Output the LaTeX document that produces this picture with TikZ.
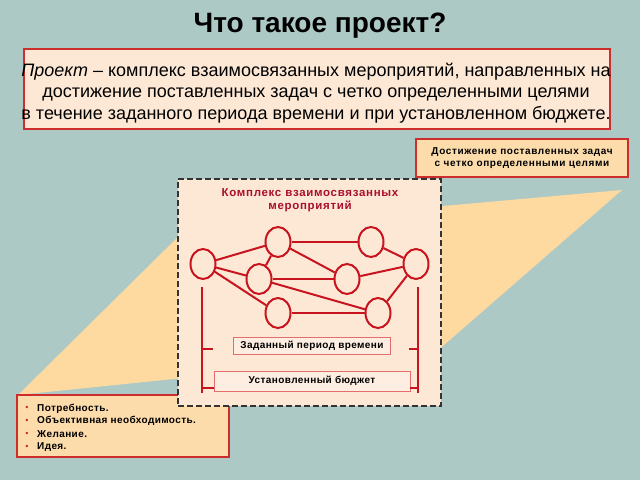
\documentclass[tikz,border=0pt]{standalone}
\usepackage{fontspec}
\setmainfont{Liberation Sans}
\newfontfamily\spaced[LetterSpace=6]{Liberation Sans}
\newfontfamily\spacedless[LetterSpace=4]{Liberation Sans}
\usetikzlibrary{positioning,shapes.geometric}

\begin{document}
\begin{tikzpicture}[x=1pt,y=-1pt,
  frame/.style={draw=edge,line width=1.2pt},
  event/.style={ellipse,draw=net,fill=paper,line width=2pt,minimum width=25pt,minimum height=30pt,inner sep=0pt},
  link/.style={draw=net,line width=2pt},
  tag/.style={draw=soft,fill=card,line width=0.9pt,inner sep=0pt,font=\spacedless\bfseries\fontsize{10}{11}\selectfont},
  need/.style={anchor=west,inner sep=0pt,font=\spacedless\bfseries\fontsize{10}{11}\selectfont}]
\definecolor{sky}{RGB}{173,201,197} \definecolor{sand}{RGB}{254,217,160}
\definecolor{paper}{RGB}{253,232,214} \definecolor{peach}{RGB}{253,220,172}
\definecolor{edge}{RGB}{205,45,45} \definecolor{net}{RGB}{200,20,30}
\definecolor{soft}{RGB}{228,110,110} \definecolor{card}{RGB}{254,238,225}
\definecolor{head}{RGB}{170,15,45}
\useasboundingbox (0,0) rectangle (640,480);
\fill[sky] (0,0) rectangle (640,480);
% the sand band behind the scheme
\coordinate (P1) at (18,395); \coordinate (P2) at (186,229);
\coordinate (P3) at (622,190); \coordinate (P4) at (436,352);
\fill[sand] (P1) -- (P2) -- (P3) -- (P4) -- cycle;
\node [font=\bfseries\fontsize{28}{30}\selectfont] (title) at (320,26) {Что такое проект?};
\node [frame,fill=paper,minimum width=586pt,minimum height=80pt] (def) at (317,89) {};
\node [align=center,inner sep=0pt,font=\fontsize{18}{21.5}\selectfont] (deftext) at (316,93)
  {\textit{Проект} -- комплекс взаимосвязанных мероприятий, направленных на\\
   достижение поставленных задач с четко определенными целями\\
   в течение заданного периода времени и при установленном бюджете.};
\node [frame,fill=peach,minimum width=212pt,minimum height=38pt,align=center,
  font=\spaced\bfseries\fontsize{10}{11.5}\selectfont] (goal) at (522,158)
  {Достижение поставленных задач\\с четко определенными целями};
\node [frame,fill=peach,minimum width=212pt,minimum height=62pt] (needs) at (123,426) {};
\foreach \txt [count=\i] in {Потребность.,Объективная необходимость.,Желание.,Идея.}
  \node [need,label={[text=edge,font=\fontsize{9}{9}\selectfont,xshift=-5pt]left:•}] (need\i) at (37,395.5+12.9*\i) {\txt};
\node [draw=black!80,dashed,dash pattern=on 6pt off 3pt,line width=1.6pt,fill=paper,
  minimum width=263pt,minimum height=227pt] (complex) at (309.5,292.5) {};
\node [align=center,text=head,font=\spaced\bfseries\fontsize{11.5}{12.5}\selectfont] (ctitle) at (310,200)
  {Комплекс взаимосвязанных\\мероприятий};
\foreach \n/\x/\y in {e1/203/264,e2/278/242,e3/371/242,e4/416/264,
                      e5/259/279,e6/347/279,e7/278/313,e8/378/313}
  \node [event] (\n) at (\x,\y) {};
\foreach \a/\b in {e1/e2,e1/e5,e1/e7,e2/e3,e2/e5,e2/e6,e3/e4,e5/e6,e5/e8,e6/e4,e7/e8,e8/e4}
  \draw [link] (\a) -- (\b);
\node [tag,minimum width=157pt,minimum height=17pt] (period) at (312,345.5) {Заданный период времени};
\node [tag,minimum width=196pt,minimum height=20pt] (budget) at (312,381) {Установленный бюджет};
\coordinate (lt) at (202,287); \coordinate (lb) at (202,393);
\coordinate (rt) at (418,287); \coordinate (rb) at (418,393);
\draw [link] (lt) -- (lb) (202,349) -- ++(11,0) (202,388) -- (budget.west |- 0,388);
\draw [link] (rt) -- (rb) (418,349) -- ++(-9,0) (418,388) -- (budget.east |- 0,388);
\end{tikzpicture}
\end{document}
